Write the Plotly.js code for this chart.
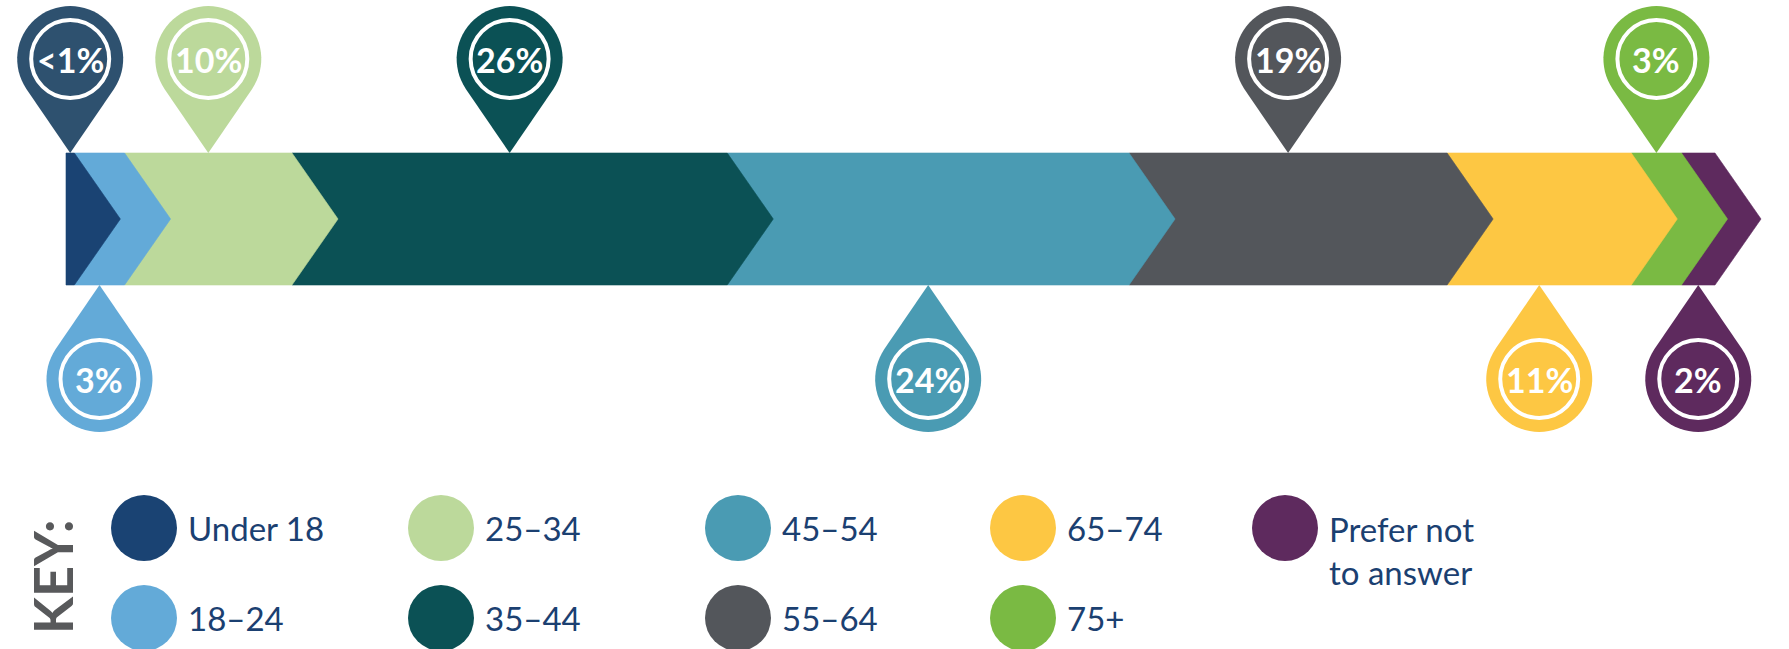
<!DOCTYPE html>
<html>
<head>
<meta charset="utf-8">
<script src="https://cdn.plot.ly/plotly-3.0.1.min.js"></script>
<style>
  html, body { margin: 0; padding: 0; background: #fff; }
  #chart { width: 1789px; height: 649px; }
</style>
</head>
<body>
<div id="chart"></div>
<script>
// age groups, share of respondents (%)
const groups = ['Under 18', '18–24', '25–34', '35–44', '45–54', '55–64', '65–74', '75+', 'Prefer not<br>to answer'];
const shares = [0.5, 3, 10, 26, 24, 19, 11, 3, 2];
const shareLabels = ['&lt;1%', '3%', '10%', '26%', '24%', '19%', '11%', '3%', '2%'];
const pinSide = ['top', 'bottom', 'top', 'top', 'bottom', 'top', 'bottom', 'top', 'bottom'];

const colors = ['#1a4373', '#63aad8', '#bcd99b', '#0b5155', '#4a9bb3', '#53565b', '#fdc743', '#7aba43', '#5e2a5e'];
const pinColors = colors.slice();
pinColors[0] = '#2e516f';

// layout constants (pixels)
const W = 1789, H = 649;
const barLeftPx = 66, barRightPx = 1715;
const barTop = 153, barBottom = 285, barMid = (barTop + barBottom) / 2;
const tipDepthPx = 46;
const pinH = 94, pinR = 53, ringR = 39;
const keyCols = [144, 441, 738, 1023, 1285];
const keyRows = [528, 618];

const total = shares.reduce((a, b) => a + b, 0);
const scale = (barRightPx - barLeftPx) / total;   // px per percent
const tip = tipDepthPx / scale;

// cumulative start of each segment
const starts = [];
let acc = 0;
shares.forEach(v => { starts.push(acc); acc += v; });

const traces = [];
// draw right to left so each chevron tip sits on top of the next segment
for (let i = shares.length - 1; i >= 0; i--) {
  const s = starts[i], e = starts[i] + shares[i];
  traces.push({
    type: 'scatter', mode: 'lines', fill: 'toself',
    x: [s, e, e + tip, e, s, s],
    y: [barTop, barTop, barMid, barBottom, barBottom, barTop],
    fillcolor: colors[i], line: { width: 0.6, color: colors[i] },
    hoverinfo: 'skip', showlegend: false
  });
}

// key markers
traces.push({
  type: 'scatter', mode: 'markers', xaxis: 'x2', yaxis: 'y',
  x: groups.map((g, i) => keyCols[Math.floor(i / 2)]),
  y: groups.map((g, i) => keyRows[i % 2]),
  marker: { size: 66, color: colors, line: { width: 0 } },
  hoverinfo: 'skip', showlegend: false
});

function pinPath(dir) {
  const a = Math.asin(pinR / pinH);
  const pts = [[0, 0]];
  const n = 48;
  for (let k = 0; k <= n; k++) {
    const th = -a + (Math.PI + 2 * a) * k / n;
    pts.push([pinR * Math.cos(th), pinH + pinR * Math.sin(th)]);
  }
  return 'M ' + pts.map(p => p[0].toFixed(1) + ',' + (dir * p[1]).toFixed(1)).join(' L ') + ' Z';
}

const shapes = [];
const annotations = [];
shares.forEach((v, i) => {
  const cx = starts[i] + v / 2;
  const up = pinSide[i] === 'top';
  const dir = up ? 1 : -1;
  const anchorY = up ? barTop : barBottom;
  shapes.push({
    type: 'path', layer: 'above', xref: 'x', yref: 'y',
    xsizemode: 'pixel', ysizemode: 'pixel', xanchor: cx, yanchor: anchorY,
    path: pinPath(dir), fillcolor: pinColors[i], line: { width: 0 }
  });
  shapes.push({
    type: 'circle', layer: 'above', xref: 'x', yref: 'y',
    xsizemode: 'pixel', ysizemode: 'pixel', xanchor: cx, yanchor: anchorY,
    x0: -ringR, x1: ringR, y0: dir * pinH - ringR, y1: dir * pinH + ringR,
    line: { color: '#ffffff', width: 4 }, fillcolor: 'rgba(0,0,0,0)'
  });
  annotations.push({
    xref: 'x', yref: 'y', x: cx, y: anchorY, yshift: dir * pinH,
    text: shareLabels[i], showarrow: false,
    font: { family: 'Lato, sans-serif', size: 34, color: '#ffffff', weight: 'bold' }
  });
});

// key labels
groups.forEach((g, i) => {
  const lines = g.split('<br>').length;
  annotations.push({
    xref: 'x2', yref: 'y', x: keyCols[Math.floor(i / 2)] + 42, y: keyRows[i % 2],
    xanchor: 'left', yanchor: 'middle', yshift: -(lines - 1) * 22,
    align: 'left', text: g, showarrow: false,
    font: { family: 'Lato, sans-serif', size: 33, color: '#1b4071' }
  });
});

annotations.push({
  xref: 'x2', yref: 'y', x: 52, y: 577, textangle: -90,
  text: 'KEY:', showarrow: false,
  font: { family: 'Lato, sans-serif', size: 54, color: '#58595b', weight: 'bold' }
});

const layout = {
  width: W, height: H,
  margin: { l: 0, r: 0, t: 0, b: 0 },
  paper_bgcolor: '#ffffff', plot_bgcolor: '#ffffff',
  xaxis: { range: [-barLeftPx / scale, (W - barLeftPx) / scale], visible: false, fixedrange: true },
  xaxis2: { range: [0, W], overlaying: 'x', visible: false, fixedrange: true },
  yaxis: { range: [H, 0], visible: false, fixedrange: true },
  shapes: shapes,
  annotations: annotations,
  hovermode: false
};

Plotly.newPlot('chart', traces, layout, { displayModeBar: false, staticPlot: true });
</script>
</body>
</html>
